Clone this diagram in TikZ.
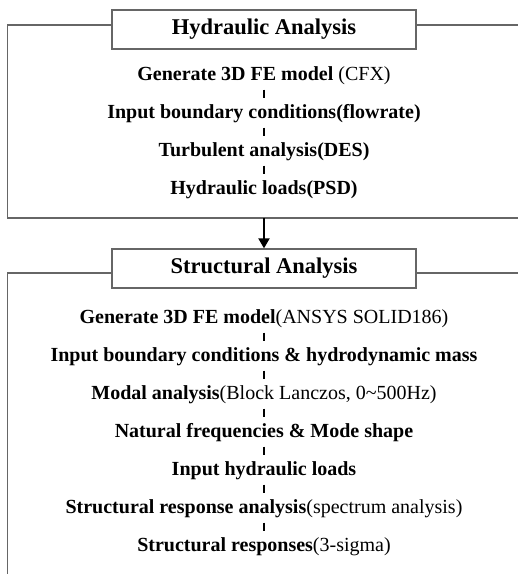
\documentclass[tikz,border=0pt]{standalone}
\usepackage{fontspec}
\setmainfont{Liberation Serif}
\usetikzlibrary{arrows.meta}
\begin{document}
\begin{tikzpicture}[x=1pt,y=-1pt,
  frame/.style={draw=black!60,line width=1.3pt},
  titlebox/.style={draw=black!60,line width=1.3pt,minimum width=304pt,minimum height=39pt,inner sep=0pt,font=\fontsize{22.5}{26}\selectfont\bfseries},
  stepline/.style={inner sep=0pt,text height=14pt,text depth=4pt,font=\fontsize{20}{24}\selectfont\bfseries},
  dashlink/.style={line width=2.3pt,shorten <=5.5pt,shorten >=5.5pt},
  bigarrow/.style={line width=2pt,-{Triangle[width=11pt,length=10pt]}}]
\useasboundingbox (0,0) rectangle (518,574);
% Hydraulic part
\node[titlebox] (hbox) at (264,29.5) {Hydraulic Analysis};
\draw[frame] (hbox.west |- 0,25) -- (7.5,25) -- (7.5,218) -- (518,218);
\draw[frame] (hbox.east |- 0,25) -- (518,25);
\coordinate (hbot) at (264,218);
\node[stepline] (h1) at (264,75) {Generate 3D FE model \mdseries(CFX)};
\node[stepline] (h2) at (264,113) {Input boundary conditions(flowrate)};
\node[stepline] (h3) at (264,151) {Turbulent analysis(DES)};
\node[stepline] (h4) at (264,189) {Hydraulic loads(PSD)};
\draw[dashlink] (h1) -- (h2);
\draw[dashlink] (h2) -- (h3);
\draw[dashlink] (h3) -- (h4);
% Structural part
\node[titlebox] (sbox) at (264,268.5) {Structural Analysis};
\draw[frame] (sbox.west |- 0,273) -- (7.5,273) -- (7.5,574);
\draw[frame] (sbox.east |- 0,273) -- (518,273);
\draw[bigarrow] (hbot) -- (sbox.north);
\node[stepline] (s1) at (264,318) {Generate 3D FE model\mdseries(ANSYS SOLID186)};
\node[stepline] (s2) at (264,356) {Input boundary conditions \& hydrodynamic mass};
\node[stepline] (s3) at (264,394) {Modal analysis\mdseries(Block Lanczos, 0\textasciitilde500Hz)};
\node[stepline] (s4) at (264,432) {Natural frequencies \& Mode shape};
\node[stepline] (s5) at (264,470) {Input hydraulic loads};
\node[stepline] (s6) at (264,508) {Structural response analysis\mdseries(spectrum analysis)};
\node[stepline] (s7) at (264,546) {Structural responses\mdseries(3-sigma)};
\foreach \a/\b in {s1/s2,s2/s3,s3/s4,s4/s5,s5/s6,s6/s7}
  \draw[dashlink] (\a) -- (\b);
\end{tikzpicture}
\end{document}
